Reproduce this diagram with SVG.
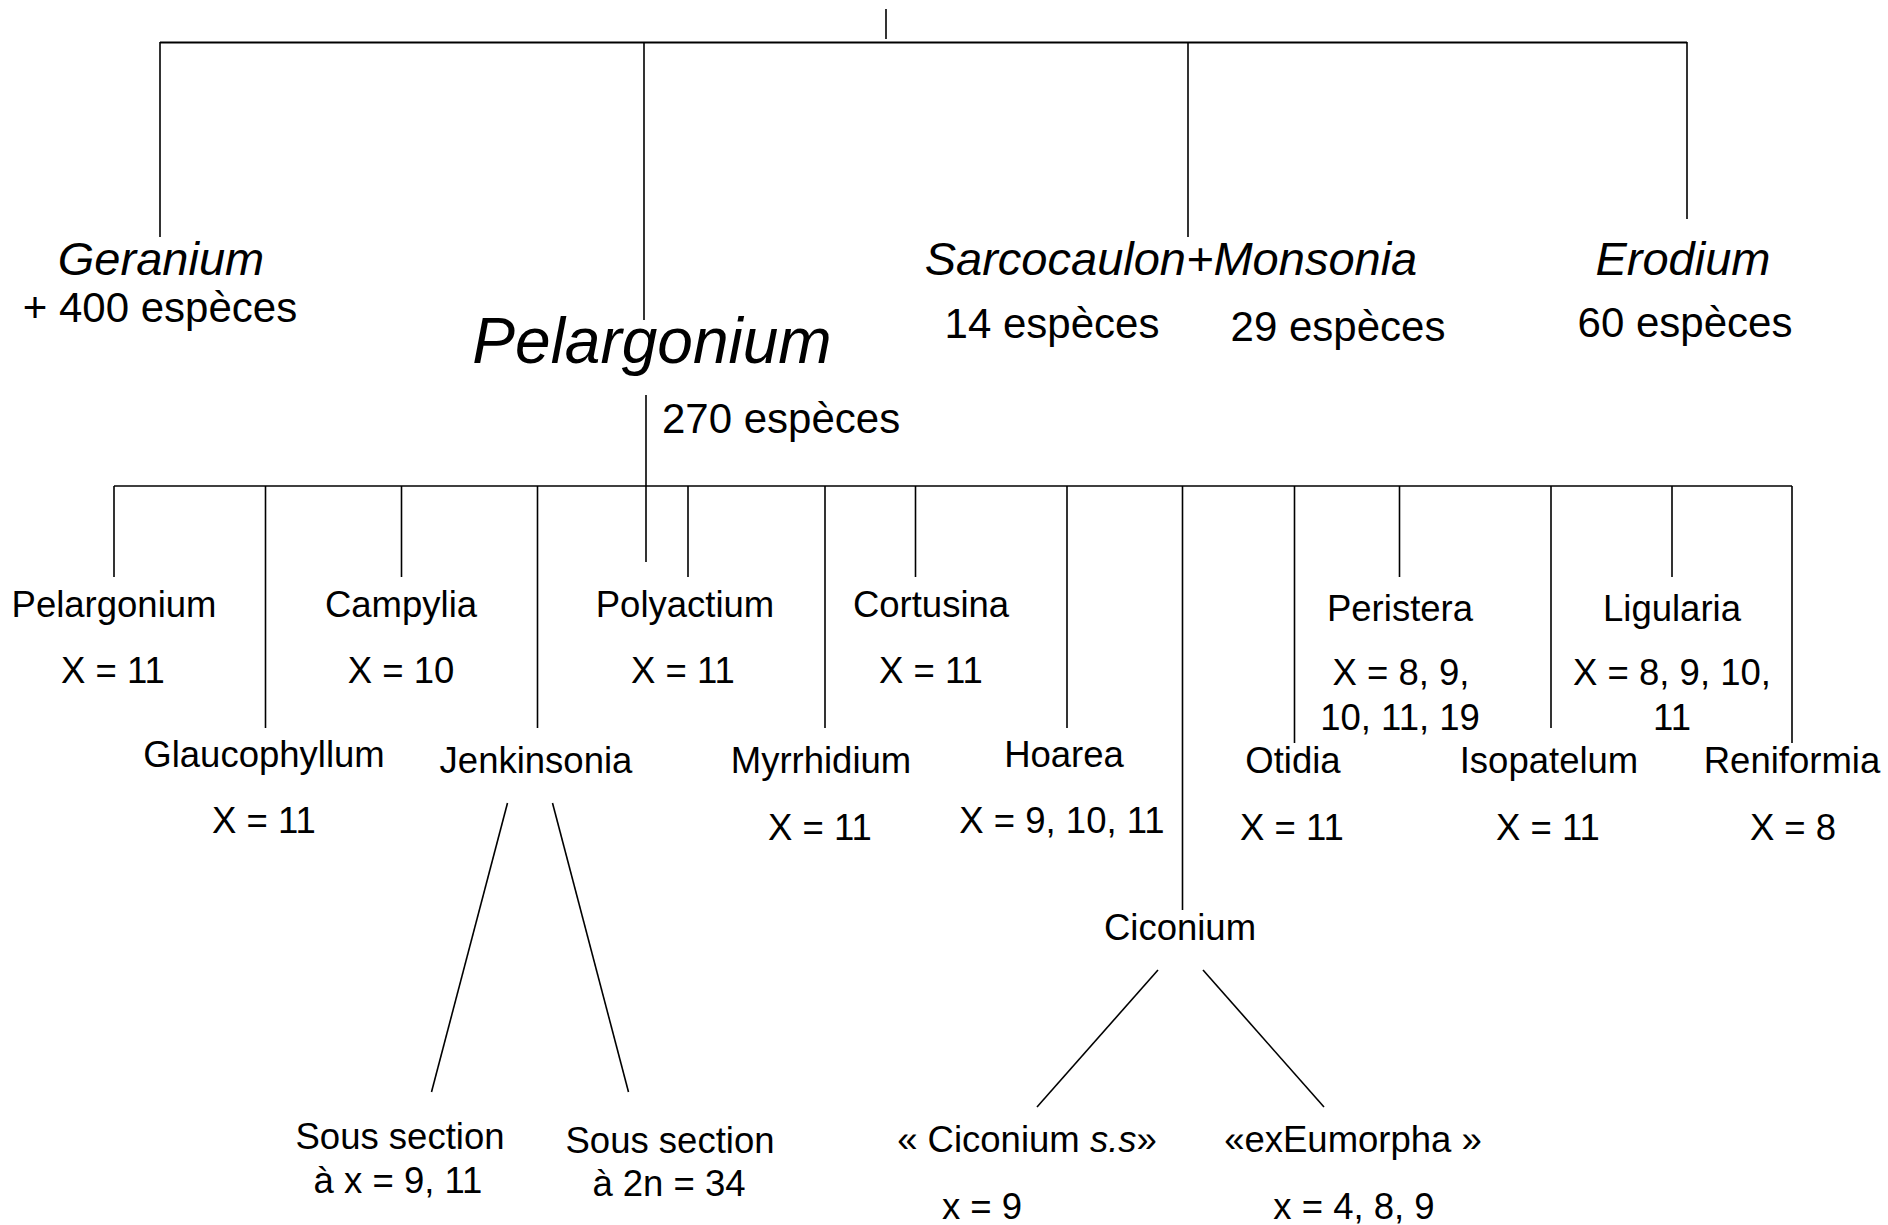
<svg xmlns="http://www.w3.org/2000/svg" width="1888" height="1225" viewBox="0 0 1888 1225">
<style>
text{font-family:"Liberation Sans",Arial,sans-serif;fill:#000;text-anchor:middle}
.g{font-size:47px;font-style:italic}
.big{font-size:64px;font-style:italic}
.c{font-size:42px}
.s{font-size:36.5px}
.l{stroke:#000;stroke-width:1.6;fill:none}
.h{stroke:#000;stroke-width:2;fill:none}
</style>
<rect width="1888" height="1225" fill="#fff"/>
<g id="connectors">
<line class="l" x1="886" y1="9" x2="886" y2="39"/>
<line class="h" x1="160" y1="42.5" x2="1687" y2="42.5"/>
<line class="l" x1="160" y1="42" x2="160" y2="237"/>
<line class="l" x1="644" y1="42" x2="644" y2="320"/>
<line class="l" x1="1188" y1="42" x2="1188" y2="237"/>
<line class="l" x1="1687" y1="42" x2="1687" y2="219"/>
<line class="l" x1="646" y1="395" x2="646" y2="562"/>
<line class="l" x1="114" y1="486" x2="1792" y2="486"/>
<line class="l" x1="114" y1="486" x2="114" y2="577"/>
<line class="l" x1="265.5" y1="486" x2="265.5" y2="728"/>
<line class="l" x1="401.5" y1="486" x2="401.5" y2="577"/>
<line class="l" x1="537.5" y1="486" x2="537.5" y2="728"/>
<line class="l" x1="688" y1="486" x2="688" y2="577"/>
<line class="l" x1="825" y1="486" x2="825" y2="728"/>
<line class="l" x1="915.5" y1="486" x2="915.5" y2="577"/>
<line class="l" x1="1067" y1="486" x2="1067" y2="728"/>
<line class="l" x1="1182.5" y1="486" x2="1182.5" y2="910"/>
<line class="l" x1="1294.5" y1="486" x2="1294.5" y2="743"/>
<line class="l" x1="1399.5" y1="486" x2="1399.5" y2="577"/>
<line class="l" x1="1551" y1="486" x2="1551" y2="728"/>
<line class="l" x1="1672" y1="486" x2="1672" y2="577"/>
<line class="l" x1="1792" y1="486" x2="1792" y2="743"/>
<line class="l" x1="507.5" y1="803" x2="431.5" y2="1092"/>
<line class="l" x1="552.5" y1="803" x2="628.5" y2="1092"/>
<line class="l" x1="1158" y1="970" x2="1037" y2="1107"/>
<line class="l" x1="1203" y1="970" x2="1324" y2="1107"/>
</g>
<g id="geranium"><text class="g" x="161" y="275">Geranium</text><text class="c" x="160" y="322">+ 400 espèces</text></g>
<g id="pelargonium"><text class="big" x="652" y="363">Pelargonium</text><text class="c" x="662" y="433" style="text-anchor:start">270 espèces</text></g>
<g id="sarcocaulon-monsonia"><text class="g" x="1171" y="275">Sarcocaulon+Monsonia</text><text class="c" x="1052" y="338">14 espèces</text><text class="c" x="1338" y="341">29 espèces</text></g>
<g id="erodium"><text class="g" x="1683" y="275">Erodium</text><text class="c" x="1685" y="337">60 espèces</text></g>
<g id="sec-pelargonium"><text class="s" x="114" y="617">Pelargonium</text><text class="s" x="113" y="683">X = 11</text></g>
<g id="sec-glaucophyllum"><text class="s" x="264" y="767">Glaucophyllum</text><text class="s" x="264" y="833">X = 11</text></g>
<g id="sec-campylia"><text class="s" x="401" y="617">Campylia</text><text class="s" x="401" y="683">X = 10</text></g>
<g id="sec-jenkinsonia"><text class="s" x="536" y="773">Jenkinsonia</text></g>
<g id="sec-polyactium"><text class="s" x="685" y="617">Polyactium</text><text class="s" x="683" y="683">X = 11</text></g>
<g id="sec-myrrhidium"><text class="s" x="821" y="773">Myrrhidium</text><text class="s" x="820" y="840">X = 11</text></g>
<g id="sec-cortusina"><text class="s" x="931" y="617">Cortusina</text><text class="s" x="931" y="683">X = 11</text></g>
<g id="sec-hoarea"><text class="s" x="1064" y="767">Hoarea</text><text class="s" x="1062" y="833">X = 9, 10, 11</text></g>
<g id="sec-ciconium"><text class="s" x="1180" y="940">Ciconium</text></g>
<g id="sec-otidia"><text class="s" x="1293" y="773">Otidia</text><text class="s" x="1292" y="840">X = 11</text></g>
<g id="sec-peristera"><text class="s" x="1400" y="621">Peristera</text><text class="s" x="1401" y="685">X = 8, 9,</text><text class="s" x="1400" y="730">10, 11, 19</text></g>
<g id="sec-isopatelum"><text class="s" x="1549" y="773">Isopatelum</text><text class="s" x="1548" y="840">X = 11</text></g>
<g id="sec-ligularia"><text class="s" x="1672" y="621">Ligularia</text><text class="s" x="1672" y="685">X = 8, 9, 10,</text><text class="s" x="1672" y="730">11</text></g>
<g id="sec-reniformia"><text class="s" x="1792" y="773">Reniformia</text><text class="s" x="1793" y="840">X = 8</text></g>
<g id="sub-jenk-1"><text class="s" x="400" y="1149">Sous section</text><text class="s" x="398" y="1193">à x = 9, 11</text></g>
<g id="sub-jenk-2"><text class="s" x="670" y="1153">Sous section</text><text class="s" x="669" y="1196">à 2n = 34</text></g>
<g id="sub-cic-1"><text class="s" x="1027" y="1152">« Ciconium <tspan font-style="italic">s.s</tspan>»</text><text class="s" x="982" y="1219">x = 9</text></g>
<g id="sub-cic-2"><text class="s" x="1353" y="1152">«exEumorpha »</text><text class="s" x="1354" y="1219">x = 4, 8, 9</text></g>
</svg>
